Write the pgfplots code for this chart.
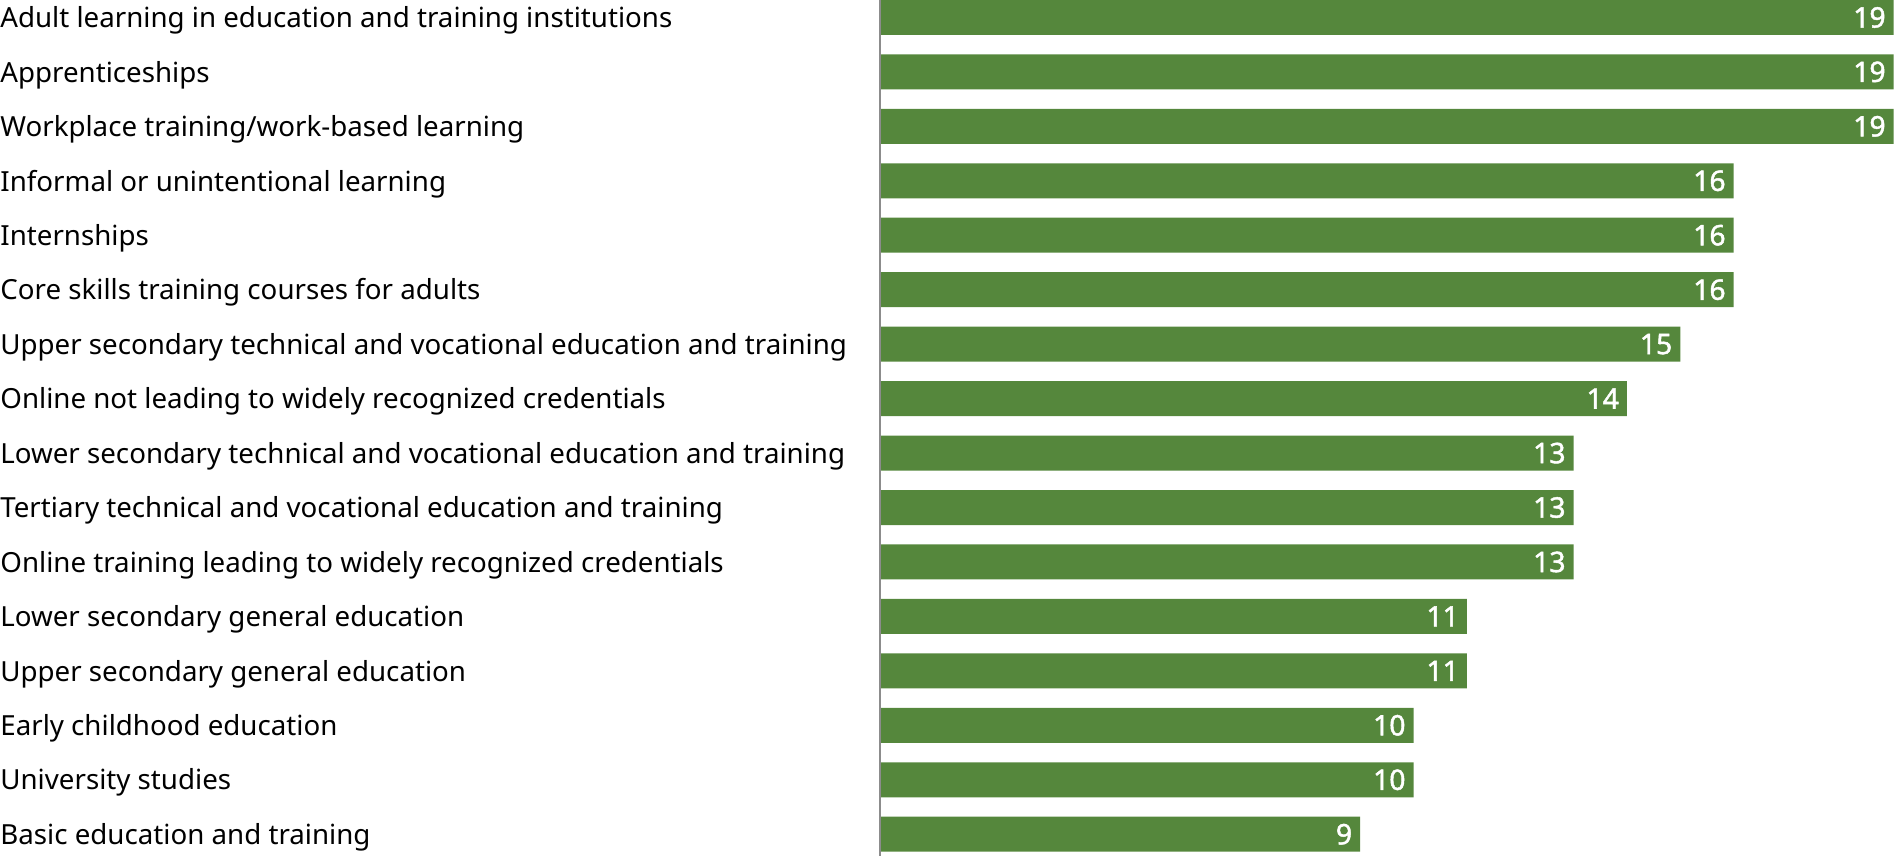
\documentclass[border=0pt]{standalone}
\usepackage{fontspec}
\setmainfont{Noto Sans}
\newfontfamily\valfont{Noto Sans}[FakeBold=1.6]
\usepackage{pgfplots}
\pgfplotsset{compat=1.18}
\definecolor{barg}{HTML}{55873C}
\definecolor{axg}{HTML}{8C8C8C}
\begin{document}
\begin{tikzpicture}
\begin{axis}[
  xbar, y dir=reverse,
  width=509.5bp, height=428bp, scale only axis,
  xmin=0, xmax=19.1,
  ymin=-0.32, ymax=15.40,
  bar width=0.643, bar shift=0pt,
  axis line style={draw=none},
  hide x axis,
  ytick={0,...,15},
  yticklabels={
    Adult learning in education and training institutions,
    Apprenticeships,
    Workplace training/work-based learning,
    Informal or unintentional learning,
    Internships,
    Core skills training courses for adults,
    Upper secondary technical and vocational education and training,
    Online not leading to widely recognized credentials,
    Lower secondary technical and vocational education and training,
    Tertiary technical and vocational education and training,
    Online training leading to widely recognized credentials,
    Lower secondary general education,
    Upper secondary general education,
    Early childhood education,
    University studies,
    Basic education and training},
  major tick length=0pt,
  y tick label style={anchor=west, xshift=-440bp, yshift=-1.5bp, inner sep=0pt, font=\fontsize{13.9}{16}\selectfont, text=black},
  /pgf/number format/assume math mode=true,
  nodes near coords,
  every node near coord/.append style={anchor=east, inner sep=0pt, xshift=-3.8bp, text=white, font=\valfont\fontsize{14.2}{16}\selectfont},
  clip=false,
]
\addplot[fill=barg, draw=none] coordinates {
(19,0) (19,1) (19,2) (16,3) (16,4) (16,5) (15,6) (14,7) (13,8) (13,9) (13,10) (11,11) (11,12) (10,13) (10,14) (9,15)};
\draw[axg, line width=1.2bp] (axis cs:0,-0.32) -- (axis cs:0,15.40);
\coordinate (ca) at (rel axis cs:0,0);
\coordinate (cb) at (rel axis cs:1,1);
\end{axis}
\pgfresetboundingbox
\path ([xshift=-440bp]ca) rectangle (cb);
\end{tikzpicture}
\end{document}
